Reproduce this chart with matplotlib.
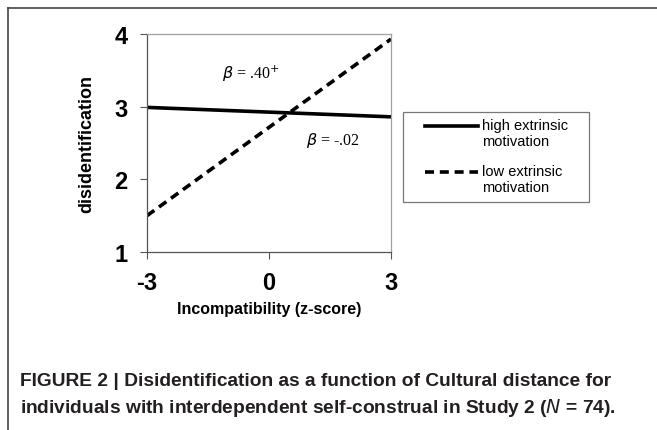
import numpy as np
import matplotlib.pyplot as plt
from matplotlib.lines import Line2D
from matplotlib.patches import Rectangle
from matplotlib.legend_handler import HandlerLine2D

# data
x_vals = [-3, 3]
high_extrinsic = [2.99, 2.86]
low_extrinsic = [1.50, 3.93]
series_labels = ["high extrinsic\nmotivation", "low extrinsic\nmotivation"]
x_ticks = [-3, 0, 3]
y_ticks = [1, 2, 3, 4]
caption = ("FIGURE 2 | Disidentification as a function of Cultural distance for\n"
           "individuals with interdependent self-construal in Study 2 ($\\bf{\\it{N}}$ = 74).")

DASH = (0, (2.5, 1.6))


class FirstLineHandler(HandlerLine2D):
    # put the legend sample next to the first text line instead of the middle
    def create_artists(self, *args, **kwargs):
        artists = super().create_artists(*args, **kwargs)
        for a in artists:
            a.set_ydata(np.asarray(a.get_ydata()) + 5.5)
        return artists


plt.rcParams['font.family'] = ['Liberation Sans', 'DejaVu Sans']

fig = plt.figure(figsize=(6.57, 4.31), dpi=100)
ax = fig.add_axes([147 / 657, 1 - 253 / 431, 244 / 657, 218 / 431])

ax.plot(x_vals, high_extrinsic, color='black', lw=2.6, solid_capstyle='butt')
ax.plot(x_vals, low_extrinsic, color='black', lw=2.6, linestyle=DASH, dash_capstyle='butt')

ax.set_xlim(-3, 3)
ax.set_ylim(1, 4)
ax.set_xticks(x_ticks)
ax.set_yticks(y_ticks)
ax.set_xticklabels([str(v) for v in x_ticks], fontsize=17, fontweight='bold')
ax.set_yticklabels([str(v) for v in y_ticks], fontsize=17, fontweight='bold')
ax.tick_params(direction='out', length=5, width=0.8, color='#555555', pad=9)

for side in ['left', 'bottom']:
    ax.spines[side].set_color('#555555')
    ax.spines[side].set_linewidth(0.9)
for side in ['top', 'right']:
    ax.spines[side].set_color('#a0a0a0')
    ax.spines[side].set_linewidth(0.9)

ax.set_xlabel("Incompatibility (z-score)", fontsize=11.5, fontweight='bold', labelpad=5)
ax.set_ylabel("disidentification", fontsize=13, fontweight='bold', labelpad=14)

ax.text(-1.15, 3.4, r"$\beta$ = .40$^{+}$", family='Liberation Serif', fontsize=11.5)
ax.text(0.9, 2.55, r"$\beta$ = -.02", family='Liberation Serif', fontsize=11.5,
        va='center')

handles = [Line2D([], [], color='black', lw=2.6),
           Line2D([], [], color='black', lw=2.6, linestyle=DASH)]
leg = ax.legend(handles, series_labels, loc='upper left',
                bbox_to_anchor=(425 / 657, 1 - 119 / 431), bbox_transform=fig.transFigure,
                fontsize=10.5, handlelength=3.6, handletextpad=0.3, labelspacing=1.1,
                borderpad=0, borderaxespad=0, frameon=False,
                handler_map={Line2D: FirstLineHandler()})

# legend frame
fig.add_artist(Rectangle((403 / 657, 1 - 203 / 431), 186 / 657, 90 / 431, fill=False,
                         edgecolor='#777777', lw=0.9, transform=fig.transFigure))

# outer figure frame
fig.add_artist(Line2D([8 / 657, 1], [1 - 9 / 431, 1 - 9 / 431], color='#444444', lw=1.2,
                      transform=fig.transFigure))
fig.add_artist(Line2D([8 / 657, 8 / 657], [0, 1 - 9 / 431], color='#444444', lw=1.2,
                      transform=fig.transFigure))

fig.text(20 / 657, 1 - 396 / 431, caption, fontsize=13.8, fontweight='bold',
         color='#231f20', linespacing=1.45, va='center')

fig.savefig("out.png", dpi=100)
